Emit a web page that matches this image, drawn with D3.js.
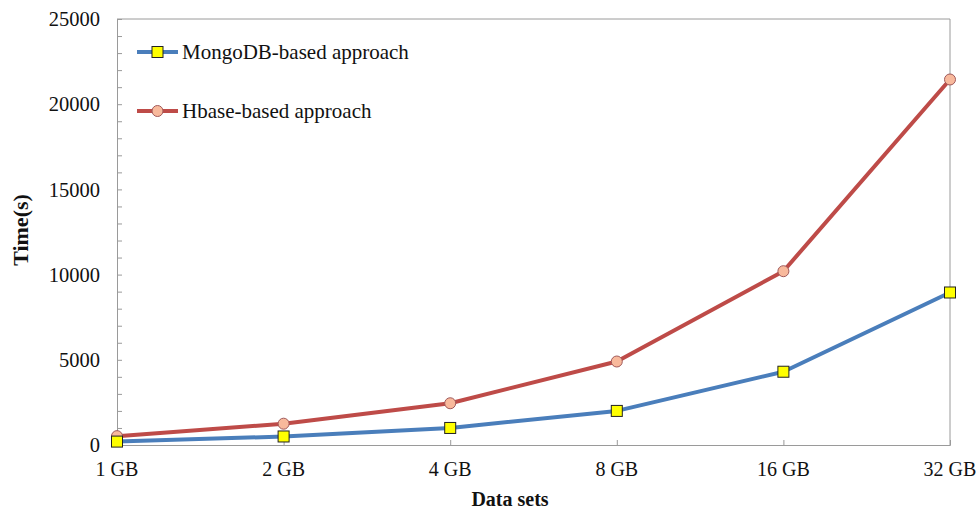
<!DOCTYPE html>
<html lang="en">
<head>
<meta charset="utf-8">
<script src="https://d3js.org/d3.v7.min.js"></script>
<style>
  body { margin: 0; background: #fff; }
  text { font-family: "Liberation Serif", "Times New Roman", serif; fill: #111; }
</style>
</head>
<body>
<div id="chart"></div>
<script>
// data
var categories = ["1 GB", "2 GB", "4 GB", "8 GB", "16 GB", "32 GB"];
var mongoValues = [200, 500, 1000, 2000, 4300, 8950];
var hbaseValues = [520, 1250, 2450, 4900, 10200, 21450];
var yTicks = [0, 5000, 10000, 15000, 20000, 25000];

var W = 980, H = 510;
var margin = {top: 19, right: 30, bottom: 65, left: 117};
var width = W - margin.left - margin.right,
    height = H - margin.top - margin.bottom;

var svg = d3.select("#chart").append("svg")
    .attr("width", W).attr("height", H);
var g = svg.append("g")
    .attr("transform", "translate(" + margin.left + "," + margin.top + ")");

var x = d3.scalePoint().domain(categories).range([0, width]);
var y = d3.scaleLinear().domain([0, 25000]).range([height, 0]);

// frame (top and right)
g.append("path")
  .attr("d", "M0,0H" + width + "V" + height)
  .attr("fill", "none").attr("stroke", "#9a9a9a").attr("stroke-width", 1);

// y axis: ticks inside, minor every 1000
var yAxis = g.append("g")
  .call(d3.axisRight(y).tickValues(d3.range(0, 25001, 1000)).tickSize(5).tickFormat(""));
yAxis.select(".domain").attr("stroke", "#9a9a9a");
yAxis.selectAll(".tick line").attr("stroke", "#9a9a9a");

g.selectAll(".ylab").data(yTicks).enter().append("text")
  .attr("class", "ylab")
  .attr("x", -17).attr("y", function(d){ return y(d); })
  .attr("dy", "0.35em").attr("text-anchor", "end")
  .style("font-size", "20.5px")
  .text(function(d){ return d; });

// x axis: ticks inside
var xAxis = g.append("g")
  .attr("transform", "translate(0," + height + ")")
  .call(d3.axisTop(x).tickSize(5).tickFormat(""));
xAxis.select(".domain").attr("stroke", "#9a9a9a");
xAxis.selectAll(".tick line").attr("stroke", "#9a9a9a");

g.selectAll(".xlab").data(categories).enter().append("text")
  .attr("class", "xlab")
  .attr("x", function(d){ return x(d); }).attr("y", height + 31)
  .attr("text-anchor", "middle")
  .style("font-size", "20px")
  .text(function(d){ return d; });

// axis titles
svg.append("text")
  .attr("x", 510).attr("y", 506)
  .attr("text-anchor", "middle")
  .style("font-size", "20px").style("font-weight", "bold")
  .text("Data sets");
svg.append("text")
  .attr("transform", "translate(28,230) rotate(-90)")
  .attr("text-anchor", "middle")
  .style("font-size", "22px").style("font-weight", "bold")
  .text("Time(s)");

var series = [
  {name: "MongoDB-based approach", values: mongoValues, color: "#4a7ebb", marker: "square"},
  {name: "Hbase-based approach", values: hbaseValues, color: "#be4b48", marker: "circle"}
];

var line = d3.line()
  .x(function(d, i){ return x(categories[i]); })
  .y(function(d){ return y(d); });

function drawMarker(sel, type, cx, cy) {
  if (type === "square") {
    sel.append("rect")
      .attr("x", cx - 5.5).attr("y", cy - 5.5)
      .attr("width", 11).attr("height", 11)
      .attr("fill", "#ffff00").attr("stroke", "#222").attr("stroke-width", 1);
  } else {
    sel.append("circle")
      .attr("cx", cx).attr("cy", cy).attr("r", 5.5)
      .attr("fill", "#f8b99c").attr("stroke", "#a0595a").attr("stroke-width", 1);
  }
}

// draw hbase first so mongo markers sit on top at 1 GB
series.slice().reverse().forEach(function(s) {
  g.append("path")
    .datum(s.values)
    .attr("fill", "none")
    .attr("stroke", s.color)
    .attr("stroke-width", 4)
    .attr("stroke-linejoin", "round")
    .attr("d", line);
});
series.slice().reverse().forEach(function(s) {
  var mg = g.append("g");
  s.values.forEach(function(v, i) {
    drawMarker(mg, s.marker, x(categories[i]), y(v));
  });
});

// legend
series.forEach(function(s, i) {
  var ly = 52 + i * 59;
  svg.append("line")
    .attr("x1", 137).attr("x2", 178).attr("y1", ly).attr("y2", ly)
    .attr("stroke", s.color).attr("stroke-width", 4);
  drawMarker(svg, s.marker, 157.5, ly);
  svg.append("text")
    .attr("x", 182).attr("y", ly).attr("dy", "0.35em")
    .style("font-size", "21px")
    .text(s.name);
});
</script>
</body>
</html>
